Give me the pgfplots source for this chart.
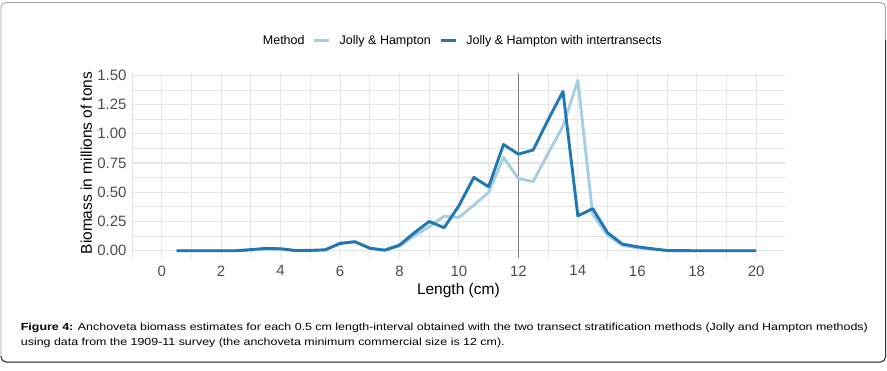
\documentclass[border=0pt]{standalone}
\usepackage{pgfplots}
\pgfplotsset{compat=1.18}
\usepackage{fontspec}
\setmainfont{Liberation Sans}
\usepackage{graphicx}
\definecolor{lightb}{HTML}{A6CEE3}
\definecolor{darkb}{HTML}{1F78B4}
\definecolor{gridc}{HTML}{E6E6E6}
\definecolor{tickc}{HTML}{4D4D4D}
\newlength\capw
\begin{document}
\settowidth\capw{\fontsize{10.3}{12}\selectfont\textbf{Figure 4:} Anchoveta biomass estimates for each 0.5 cm length-interval obtained with the two transect stratification methods (Jolly and Hampton methods)}%
\pgfmathsetmacro\capsx{847/\capw}%
\begin{tikzpicture}[x=1pt,y=1pt]
\path[use as bounding box] (0,0) rectangle (887,370);
\begin{axis}[
  at={(131.7pt,112pt)}, anchor=south west,
  scale only axis, width=653.3pt, height=185pt,
  xmin=-1.01, xmax=20.97, ymin=-0.062, ymax=1.52,
  xtick={0,2,4,6,8,10,12,14,16,18,20},
  minor xtick={-1,1,3,5,7,9,11,13,15,17,19,21},
  ytick={0,0.25,0.5,0.75,1,1.25,1.5},
  minor ytick={0.125,0.375,0.625,0.875,1.125,1.375},
  grid=both,
  major grid style={draw=gridc, line width=1.1pt},
  minor grid style={draw=gridc, line width=0.8pt},
  axis line style={draw=none},
  tick style={draw=none},
  /pgf/number format/assume math mode=true,
  ticklabel style={font=\fontsize{15}{18}\selectfont, text=tickc},
  xticklabel style={yshift=-4pt},
  yticklabel style={xshift=-1.7pt, /pgf/number format/.cd, fixed, fixed zerofill, precision=2},
  xlabel={Length (cm)},
  ylabel={Biomass in millions of tons},
  label style={font=\fontsize{15.5}{18}\selectfont, text=black},
  xlabel style={at={(axis description cs:0.5,-0.196)}, anchor=base},
  ylabel style={at={(axis description cs:-0.0608,0.5135)}, anchor=base},
  legend style={draw=none, fill=none, at={(axis description cs:0.2771,1.173)}, anchor=west,
    legend columns=-1, inner sep=0pt, outer sep=0pt,
    font=\fontsize{12.5}{15}\selectfont,
    /tikz/every odd column/.append style={column sep=9pt},
    /tikz/every even column/.append style={column sep=8.7pt},
    nodes={inner sep=0pt}},
  legend image code/.code={\draw[#1, line width=3pt] (0pt,0pt) -- (15pt,0pt);},
]
\addplot[gray, line width=0.6pt, forget plot] coordinates {(12,-0.062) (12,1.52)};
\addplot[lightb, line width=2.9pt, line join=round] table {
x y
0.5 0
1.0 0
1.5 0
2.0 0
2.5 0
3.0 0.005
3.5 0.014
4.0 0.014
4.5 0.001
5.0 0.002
5.5 0.006
6.0 0.066
6.5 0.077
7.0 0.022
7.5 0.005
8.0 0.040
8.5 0.128
9.0 0.205
9.5 0.296
10.0 0.285
10.5 0.390
11.0 0.499
11.5 0.798
12.0 0.617
12.5 0.592
13.0 0.833
13.5 1.065
14.0 1.458
14.5 0.310
15.0 0.134
15.5 0.046
16.0 0.026
16.5 0.014
17.0 0.002
17.5 0.001
18.0 0
18.5 0
19.0 0
19.5 0
20.0 0
};
\addplot[darkb, line width=2.9pt, line join=round] table {
x y
0.5 0
1.0 0
1.5 0
2.0 0
2.5 0
3.0 0.010
3.5 0.020
4.0 0.017
4.5 0.002
5.0 0.003
5.5 0.008
6.0 0.062
6.5 0.077
7.0 0.022
7.5 0.005
8.0 0.048
8.5 0.154
9.0 0.250
9.5 0.197
10.0 0.385
10.5 0.627
11.0 0.547
11.5 0.909
12.0 0.826
12.5 0.862
13.0 1.120
13.5 1.362
14.0 0.298
14.5 0.360
15.0 0.154
15.5 0.057
16.0 0.034
16.5 0.017
17.0 0.002
17.5 0.001
18.0 0
18.5 0
19.0 0
19.5 0
20.0 0
};
\legend{Jolly \& Hampton, Jolly \& Hampton with intertransects}
\end{axis}
\node[anchor=base west, inner sep=0pt, font=\fontsize{12.5}{15}\selectfont] at (262.7,325) {Method};
\node[anchor=base west, inner sep=0pt] at (20.7,39.3) {\scalebox{\capsx}[1]{\fontsize{10.3}{12}\selectfont\textbf{Figure 4:} Anchoveta biomass estimates for each 0.5 cm length-interval obtained with the two transect stratification methods (Jolly and Hampton methods)}};
\node[anchor=base west, inner sep=0pt] at (20.7,25) {\scalebox{\capsx}[1]{\fontsize{10.3}{12}\selectfont using data from the 1909-11 survey (the anchoveta minimum commercial size is 12 cm).}};
\draw[gray!75, line width=0.8pt, rounded corners=5pt] (1,8) rectangle (885.5,367.5);
\draw[black!80, line width=1pt, rounded corners=5pt] (885.5,330) -- (885.5,8) -- (1,8) -- (1,14);
\end{tikzpicture}
\end{document}
